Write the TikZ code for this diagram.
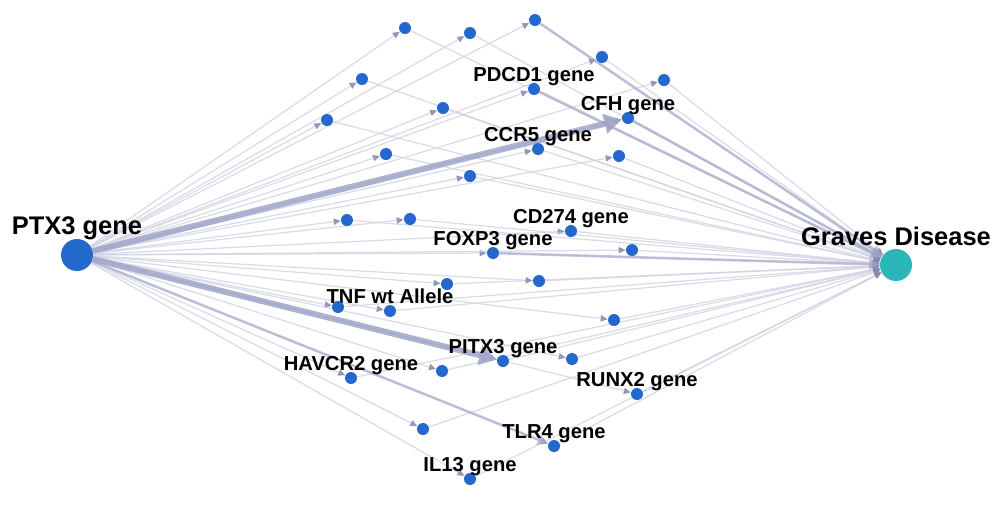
\documentclass[tikz,border=0pt]{standalone}
\usepackage{fontspec}
\setmainfont{Liberation Sans}
\usetikzlibrary{arrows.meta}
\usetikzlibrary{backgrounds}
\definecolor{cus-blue}{RGB}{36, 104, 206}
\definecolor{cus-teal}{RGB}{44, 182, 186}
\definecolor{cus-edge}{RGB}{208, 210, 226}
\definecolor{cus-tip}{RGB}{132, 138, 172}
\definecolor{cus-heavy}{RGB}{160, 164, 200}
\tikzset{
	gene/.style={circle, fill=cus-blue, inner sep=0pt, minimum size=0.24cm},
	hub/.style={circle, inner sep=0pt, minimum size=0.64cm},
	lbl/.style={anchor=base, inner sep=0pt, font=\bfseries\fontsize{11.5}{12}\selectfont},
	biglbl/.style={anchor=base, inner sep=0pt, font=\bfseries\fontsize{14.5}{15}\selectfont},
	link/.style={draw=cus-edge, line width=0.7pt, opacity=0.8, -{Triangle[length=4pt, width=3.6pt, color=cus-tip]}},
	midlink/.style={draw=cus-heavy, line width=1.5pt, opacity=0.6, -{Triangle[length=6pt, width=6pt]}},
	heavy/.style={draw=cus-heavy, line width=3.4pt, opacity=0.85, -{Triangle[length=10pt, width=11pt]}}
}

\begin{document}
\begin{tikzpicture}[x=0.02cm, y=-0.02cm]
\useasboundingbox (0 ,0) rectangle (1000 ,512);
% the two ends
\node [hub, fill=cus-blue] (ptx) at (77 ,255) {};
\node [hub, fill=cus-teal] (graves) at (896 ,265) {};
\node [biglbl] (ptx-l) at ([yshift=0.42cm]ptx.center) {PTX3 gene};
\node [biglbl] (graves-l) at ([yshift=0.40cm]graves.center) {Graves Disease};
% named genes
\foreach \n/\x/\y/\t in {pdcd/534/89/PDCD1 gene, cfh/628/118/CFH gene, ccr/538/149/CCR5 gene,
	cdl/571/231/CD274 gene, foxp/493/253/FOXP3 gene, tnf/390/311/TNF wt Allele,
	pitx/503/361/PITX3 gene, havcr/351/378/HAVCR2 gene, runx/637/394/RUNX2 gene,
	tlr/554/446/TLR4 gene, il/470/479/IL13 gene}{
	\node [gene] (\n) at (\x ,\y) {};
	\node [lbl] (\n-l) at ([yshift=0.15cm]\n.center) {\t};
}
% unnamed genes
\foreach \n/\x/\y in {u1/405/28, u2/470/33, u3/535/20, u4/602/57, u5/664/80, u6/362/79,
	u7/443/108, u8/327/120, u9/619/156, u10/386/154, u11/470/176, u12/347/220,
	u13/410/219, u14/632/250, u15/447/284, u16/539/281, u17/338/307, u18/614/320,
	u19/572/359, u20/442/371, u21/423/429}{
	\node [gene] (\n) at (\x ,\y) {};
}
\begin{scope}[on background layer]
	\foreach \n in {pdcd,cfh,ccr,cdl,foxp,tnf,pitx,havcr,runx,tlr,il,
		u1,u2,u3,u4,u5,u6,u7,u8,u9,u10,u11,u12,u13,u14,u15,u16,u17,u18,u19,u20,u21}{
		\draw [link] (ptx) -- (\n);
		\draw [link] (\n) -- (graves);
	}
	\draw [heavy] (ptx) -- (cfh);
	\draw [heavy] (ptx) -- (pitx);
	\draw [midlink] (ptx) -- (tlr);
	\draw [midlink] (foxp) -- (graves);
	\draw [midlink] (cfh) -- (graves);
	\draw [midlink] (u3) -- (graves);
	\draw [midlink] (pdcd) -- (graves);
\end{scope}
\end{tikzpicture}
\end{document}
